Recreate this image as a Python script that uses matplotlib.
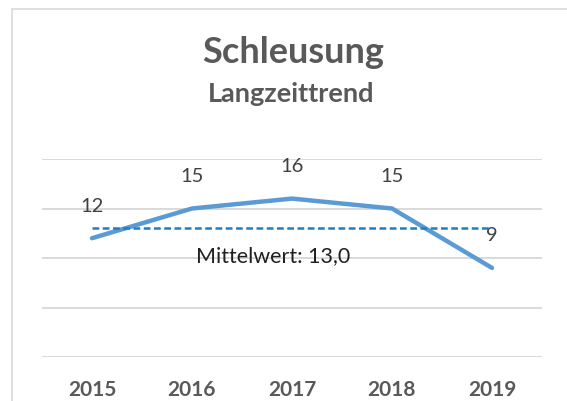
import matplotlib
matplotlib.use("Agg")
import matplotlib.pyplot as plt
from matplotlib.patches import Rectangle

years = ["2015", "2016", "2017", "2018", "2019"]
values = [12, 15, 16, 15, 9]
mean_value = 13.0
mean_label = "Mittelwert: 13,0"
title = "Schleusung"
subtitle = "Langzeittrend"

plt.rcParams['font.family'] = ['Lato', 'DejaVu Sans']

W, H = 567, 401
fig = plt.figure(figsize=(W/100, H/100), dpi=100)
fig.patch.set_facecolor('white')

# outer chart frame (partially visible)
fig.patches.append(Rectangle((12/W, -0.1), 1.2, 1 - 9/H + 0.1, transform=fig.transFigure,
                             fill=False, edgecolor='#d9d9d9', linewidth=1.2))

ax = fig.add_axes([42/W, 1 - 357/H, 500/W, (357 - 159)/H])
x = list(range(len(years)))
ax.set_xlim(-0.5, len(years) - 0.5)
ax.set_ylim(0, 20)
ax.set_yticks([0, 5, 10, 15, 20])
ax.yaxis.grid(True, color='#d9d9d9', linewidth=1.4)
ax.set_axisbelow(True)
ax.tick_params(axis='y', left=False, labelleft=False)
ax.tick_params(axis='x', bottom=False, pad=13)
for s in ax.spines.values():
    s.set_visible(False)
ax.set_xticks(x)
ax.set_xticklabels(years, fontsize=15, fontweight='bold', color='#595959')

ax.plot(x, values, color='#5b9bd5', linewidth=3.2, solid_capstyle='round', zorder=3)
ax.plot([x[0], x[-1]], [mean_value, mean_value], color='#1f7fc4', linewidth=1.8,
        dashes=(2.7, 1.4), zorder=4)

for xi, v in zip(x, values):
    ax.annotate(str(v), (xi, v), xytext=(0, 32), textcoords='offset pixels',
                ha='center', va='center', fontsize=14.5, color='#404040')

ax.annotate(mean_label, (1.815, mean_value), xytext=(0, -34), textcoords='offset pixels',
            ha='center', va='baseline', fontsize=15.5, color='#1f1f1f')

fig.text(293/W, 1 - 63/H, title, ha='center', va='baseline', fontsize=26,
         fontweight='bold', color='#595959')
fig.text(291/W, 1 - 102/H, subtitle, ha='center', va='baseline', fontsize=19.5,
         fontweight='bold', color='#595959')

fig.savefig('out.png', dpi=100, facecolor='white')
